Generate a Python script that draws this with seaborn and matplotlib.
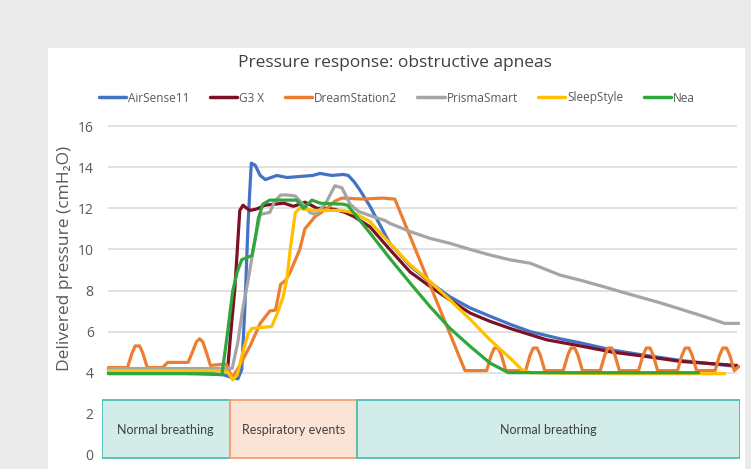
import pandas as pd
import matplotlib.pyplot as plt
import seaborn as sns
from matplotlib.patches import Rectangle

# time axis in arbitrary units (0-100), pressure in cmH2O
airsense_t = [1, 8, 15, 19.0, 20.5, 21.3, 21.9, 22.4, 22.9, 23.4, 24.0, 24.8, 25.6, 27.4, 29.0,
              31.0, 33.0, 34.2, 36.0, 37.8, 38.6, 39.5, 40.4, 41.2, 42.0, 45.1, 48.3, 51.4,
              54.5, 57.7, 60.8, 64.0, 67.1, 71.8, 75.0, 80.0, 85.0, 90.6, 95.0, 99.5]
airsense_p = [4.0, 4.0, 3.95, 3.9, 3.75, 3.7, 4.15, 7.2, 11.3, 14.2, 14.1, 13.6, 13.4, 13.6, 13.5,
              13.55, 13.6, 13.7, 13.6, 13.65, 13.6, 13.3, 12.9, 12.5, 12.1, 10.3, 9.2, 8.4,
              7.7, 7.15, 6.75, 6.35, 6.0, 5.65, 5.45, 5.1, 4.85, 4.6, 4.45, 4.3]

g3x_t = [1, 8, 15, 19.0, 19.7, 20.2, 20.8, 21.6, 22.1, 22.7, 23.2, 24.0, 24.5, 25.5, 27.0, 28.5,
         30.0, 31.0, 31.8, 32.8, 33.7, 35.0, 36.5, 38.1, 39.5, 42.0, 45.1, 48.3, 51.4, 54.5,
         57.7, 60.8, 64.0, 67.1, 69.7, 75.0, 80.0, 85.0, 90.6, 95.0, 99.5]
g3x_p = [4.18, 4.18, 4.18, 4.18, 4.2, 6.0, 8.0, 11.9, 12.15, 12.0, 11.9, 11.95, 12.0, 12.15, 12.2, 12.25,
         12.1, 12.2, 12.3, 12.15, 12.0, 12.0, 11.95, 11.8, 11.6, 11.1, 10.0, 8.9, 8.2, 7.55,
         6.9, 6.5, 6.15, 5.85, 5.6, 5.3, 5.0, 4.8, 4.55, 4.45, 4.35]

dream_t = [1, 4.0, 4.7, 5.2, 5.9, 6.4, 7.1, 9.5, 10.3, 11.0, 13.5, 14.1, 14.8, 15.3, 15.8, 16.4,
           17.0, 18.5, 19.5, 20.4, 21.5, 23.2, 24.8, 26.3, 27.2, 28.0, 28.8, 29.5, 31.0, 31.8,
           33.4, 35.3, 36.5, 37.6, 41.0, 44.0, 45.9, 56.9,
           60.3, 61.0, 61.5, 62.1, 62.6, 63.3,
           66.4, 67.1, 67.6, 68.2, 68.7, 69.4,
           72.3, 73.0, 73.5, 74.1, 74.6, 75.3,
           78.1, 78.8, 79.3, 79.9, 80.4, 81.1,
           84.1, 84.8, 85.3, 85.9, 86.4, 87.1,
           90.2, 90.9, 91.4, 92.0, 92.5, 93.2,
           96.1, 96.8, 97.3, 97.9, 98.4, 99.1, 99.8]
dream_p = [4.25, 4.25, 4.95, 5.3, 5.3, 4.95, 4.25, 4.25, 4.5, 4.5, 4.5, 4.95, 5.5, 5.65, 5.5, 4.95,
           4.35, 4.4, 4.4, 3.75, 4.3, 5.3, 6.4, 7.0, 7.05, 8.3, 8.5, 8.9, 10.0, 11.0,
           11.6, 12.0, 12.35, 12.5, 12.45, 12.5, 12.45, 4.1,
           4.1, 4.85, 5.2, 5.2, 4.85, 4.1,
           4.1, 4.85, 5.2, 5.2, 4.85, 4.1,
           4.1, 4.85, 5.2, 5.2, 4.85, 4.1,
           4.1, 4.85, 5.2, 5.2, 4.85, 4.1,
           4.1, 4.85, 5.2, 5.2, 4.85, 4.1,
           4.1, 4.85, 5.2, 5.2, 4.85, 4.1,
           4.1, 4.85, 5.2, 5.2, 4.85, 4.1, 4.3]

prisma_t = [1, 10, 19.0, 20.4, 21.3, 22.0, 22.9, 24.0, 24.8, 25.5, 26.3, 27.0, 28.0, 29.0, 30.3,
            31.5, 32.6, 33.4, 35.0, 36.5, 37.6, 38.9, 40.2, 42.0, 44.4, 45.1, 48.3, 51.4, 54.5,
            57.7, 60.8, 64.0, 67.1, 71.8, 75.0, 79.6, 81.2, 87.5, 93.7, 97.6, 99.8]
prisma_p = [4.2, 4.2, 4.2, 4.2, 5.5, 7.0, 8.5, 10.5, 11.7, 11.75, 11.8, 12.3, 12.65, 12.65, 12.6,
            12.2, 11.8, 11.7, 12.2, 13.1, 13.0, 12.2, 11.85, 11.65, 11.4, 11.27, 10.87, 10.54, 10.3,
            10.0, 9.73, 9.49, 9.33, 8.75, 8.5, 8.1, 7.95, 7.4, 6.8, 6.4, 6.4]

sleep_t = [1, 10, 19.0, 19.8, 20.5, 21.2, 21.9, 22.9, 23.5, 25.0, 26.6, 27.5, 28.4, 29.0, 29.5,
           30.3, 31.0, 33.0, 35.0, 37.3, 38.5, 40.0, 42.0, 45.1, 48.3, 51.4, 54.5, 57.7, 60.8,
           64.0, 65.8, 67.1, 80.0, 97.6]
sleep_p = [4.1, 4.1, 4.1, 4.0, 3.65, 3.9, 4.8, 5.9, 6.15, 6.2, 6.25, 6.9, 7.7, 8.6, 10.0,
           11.8, 12.0, 11.9, 11.9, 11.9, 11.85, 11.7, 11.35, 10.3, 9.25, 8.45, 7.55, 6.6, 5.6,
           4.7, 4.15, 4.0, 3.95, 3.95]

nea_t = [1, 10, 17, 18.8, 19.7, 20.5, 21.2, 21.9, 22.7, 23.5, 24.0, 24.5, 25.2, 26.3, 30.5,
         31.6, 32.9, 34.2, 37.8, 38.5, 42.0, 45.1, 48.3, 51.4, 54.5, 57.7, 60.8, 63.7, 93.5]
nea_p = [3.95, 3.95, 3.95, 3.9, 6.0, 8.0, 8.9, 9.5, 9.6, 9.7, 10.5, 11.5, 12.2, 12.4, 12.4,
         12.0, 12.4, 12.25, 12.2, 12.15, 10.8, 9.57, 8.36, 7.22, 6.17, 5.28, 4.47, 4.0, 4.0]

devices = ['AirSense11', 'G3 X', 'DreamStation2', 'PrismaSmart', 'SleepStyle', 'Nea']
colors = ['#4472c4', '#7b1126', '#ed7d31', '#a5a5a5', '#ffc000', '#2ea83a']

phases = ['Normal breathing', 'Respiratory events', 'Normal breathing']
phase_start = [0, 20, 40]
phase_end = [20, 40, 100]

series = {
    'AirSense11': (airsense_t, airsense_p),
    'G3 X': (g3x_t, g3x_p),
    'DreamStation2': (dream_t, dream_p),
    'PrismaSmart': (prisma_t, prisma_p),
    'SleepStyle': (sleep_t, sleep_p),
    'Nea': (nea_t, nea_p),
}
frames = [pd.DataFrame({'time': t, 'pressure': p, 'device': name}) for name, (t, p) in series.items()]
df = pd.concat(frames, ignore_index=True)

sns.set_style('white')
plt.rcParams['font.family'] = ['Open Sans', 'DejaVu Sans']

fig = plt.figure(figsize=(7.51, 4.69), dpi=100)
fig.patch.set_facecolor('#ebebeb')
# white card behind the chart
fig.patches.append(Rectangle((48 / 751, 0), (745 - 48) / 751, (469 - 48) / 469,
                             transform=fig.transFigure, facecolor='white', edgecolor='none', zorder=-10))

ax = fig.add_axes([102 / 751, 8 / 469, 638 / 751, 341 / 469])
ax.set_facecolor('none')

ax.hlines([4, 6, 8, 10, 12, 14, 16], 1, 99.5, color='#d9d9d9', lw=1.1, zorder=0)

sns.lineplot(data=df, x='time', y='pressure', hue='device', hue_order=devices,
             palette=dict(zip(devices, colors)), estimator=None, sort=True,
             linewidth=2.3, ax=ax, zorder=3)

# phase boxes along the bottom
for name, s, e in zip(phases, phase_start, phase_end):
    if name == 'Respiratory events':
        fc, ec = '#fbe4d5', '#f4a06c'
    else:
        fc, ec = '#d2ecea', '#4dbdb0'
    ax.add_patch(Rectangle((s, -0.15), e - s, 2.8, facecolor=fc, edgecolor=ec, lw=1.3, zorder=4))
    ax.text((s + e) / 2, 1.2, name, ha='center', va='center', fontsize=9, color='#404040',
            family=['Lato', 'DejaVu Sans'], zorder=5)

ax.set_xlim(0, 100)
ax.set_ylim(-0.3, 16.3)
ax.set_yticks([0, 2, 4, 6, 8, 10, 12, 14, 16])
ax.set_xticks([])
ax.tick_params(axis='y', length=0, pad=6, labelsize=10, labelcolor='#595959')
ax.set_xlabel('')
ax.set_ylabel('')
sns.despine(ax=ax, left=True, bottom=True)

fig.text(65 / 751, 1 - 258 / 469, 'Delivered pressure (cmH₂O)', rotation=90, ha='center', va='center',
         fontsize=12.5, color='#595959')
fig.text(395 / 751, 1 - 63 / 469, 'Pressure response: obstructive apneas', ha='center', va='center',
         fontsize=12.5, color='#404040')

handles, labels = ax.get_legend_handles_labels()
ax.legend(handles, labels, loc='center', bbox_to_anchor=(397 / 751, 1 - 98 / 469),
          bbox_transform=fig.transFigure, ncol=6, frameon=False, fontsize=8.5,
          handlelength=2.3, handletextpad=0.15, columnspacing=1.75, labelcolor='#595959')
for line in ax.get_legend().get_lines():
    line.set_linewidth(2.5)

fig.savefig('out.png', dpi=100, facecolor=fig.get_facecolor())
